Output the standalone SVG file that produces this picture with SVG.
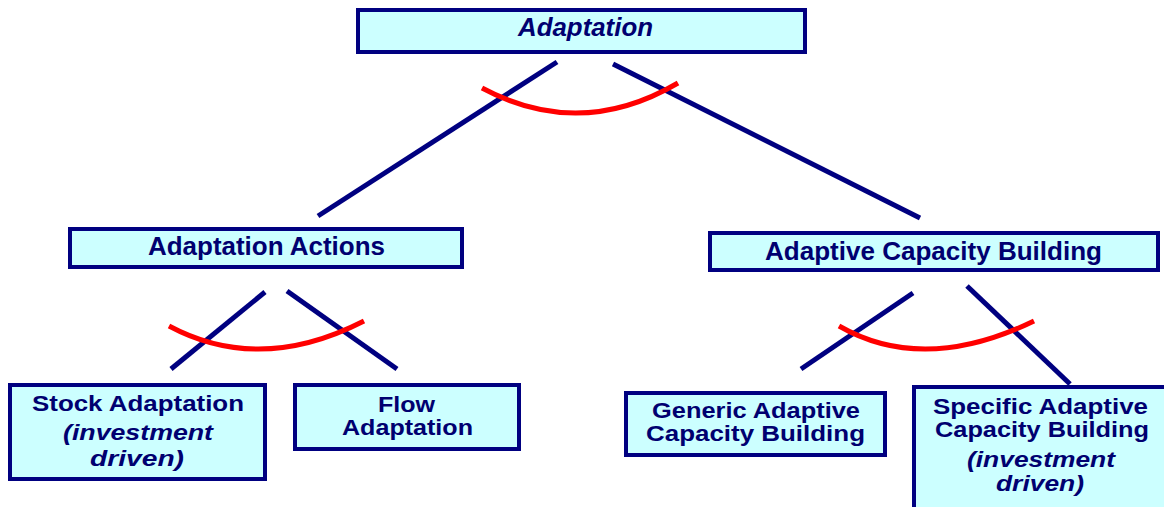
<svg xmlns="http://www.w3.org/2000/svg" width="1164" height="507" viewBox="0 0 1164 507">
<style>
.box{fill:#CCFFFF;stroke:#000080;stroke-width:4}
.t{font-family:"Liberation Sans",Arial,sans-serif;font-weight:bold;fill:#000070;text-anchor:middle}
.l{font-size:25px}
.s{font-size:22px}
.i{font-style:italic}
.c{stroke:#000080;stroke-width:5;fill:none}
.a{stroke:#FF0000;stroke-width:5;fill:none}
</style>
<rect width="1164" height="507" fill="#FFFFFF"/>
<g id="connectors">
<line class="c" x1="557" y1="62" x2="318" y2="216"/>
<line class="c" x1="613" y1="64" x2="920" y2="218"/>
<line class="c" x1="265" y1="292" x2="171" y2="369"/>
<line class="c" x1="287" y1="291" x2="397" y2="369"/>
<line class="c" x1="913" y1="293" x2="801" y2="369"/>
<line class="c" x1="967" y1="286" x2="1070" y2="384"/>
<path class="a" d="M482,88 Q580,140.5 678,83"/>
<path class="a" d="M169,326 Q259.5,374.5 364,321"/>
<path class="a" d="M839,326 Q923.5,374.5 1034,321"/>
</g>
<g id="adaptation">
<rect class="box" x="358" y="10" width="447" height="42"/>
<text class="t l i" x="585.5" y="36" textLength="135" lengthAdjust="spacingAndGlyphs">Adaptation</text>
</g>
<g id="adaptation-actions">
<rect class="box" x="70" y="229" width="392" height="38"/>
<text class="t l" x="266.5" y="255" textLength="237" lengthAdjust="spacingAndGlyphs">Adaptation Actions</text>
</g>
<g id="adaptive-capacity-building">
<rect class="box" x="710" y="233" width="448" height="37"/>
<text class="t l" x="933.5" y="260" textLength="337" lengthAdjust="spacingAndGlyphs">Adaptive Capacity Building</text>
</g>
<g id="stock-adaptation">
<rect class="box" x="10" y="385" width="255" height="94"/>
<text class="t s" x="138" y="411" textLength="212" lengthAdjust="spacingAndGlyphs">Stock Adaptation</text>
<text class="t s i" x="138" y="440" textLength="150" lengthAdjust="spacingAndGlyphs">(investment</text>
<text class="t s i" x="137" y="466" textLength="94" lengthAdjust="spacingAndGlyphs">driven)</text>
</g>
<g id="flow-adaptation">
<rect class="box" x="295" y="385" width="224" height="64"/>
<text class="t s" x="406.5" y="412" textLength="57" lengthAdjust="spacingAndGlyphs">Flow</text>
<text class="t s" x="407.5" y="435" textLength="131" lengthAdjust="spacingAndGlyphs">Adaptation</text>
</g>
<g id="generic-acb">
<rect class="box" x="626" y="393" width="259" height="62"/>
<text class="t s" x="756" y="418" textLength="208" lengthAdjust="spacingAndGlyphs">Generic Adaptive</text>
<text class="t s" x="755.5" y="441" textLength="219" lengthAdjust="spacingAndGlyphs">Capacity Building</text>
</g>
<g id="specific-acb">
<rect class="box" x="914" y="387" width="260" height="130"/>
<text class="t s" x="1040.5" y="414" textLength="215" lengthAdjust="spacingAndGlyphs">Specific Adaptive</text>
<text class="t s" x="1042" y="437" textLength="214" lengthAdjust="spacingAndGlyphs">Capacity Building</text>
<text class="t s i" x="1041" y="467" textLength="148" lengthAdjust="spacingAndGlyphs">(investment</text>
<text class="t s i" x="1040" y="491" textLength="88" lengthAdjust="spacingAndGlyphs">driven)</text>
</g>
</svg>
